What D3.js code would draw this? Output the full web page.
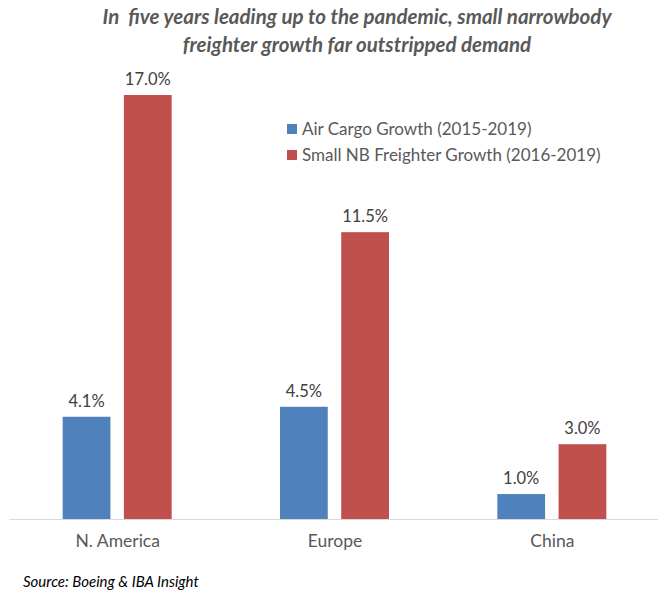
<!DOCTYPE html>
<html>
<head>
<meta charset="utf-8">
<script src="https://cdn.jsdelivr.net/npm/d3@7"></script>
<style>
  body { margin: 0; background: #fff; }
  text { font-family: Lato, "Open Sans", sans-serif; }
</style>
</head>
<body>
<div id="chart"></div>
<script>
// datos de la grafica
var regiones = ["N. America", "Europe", "China"];
var series = ["Air Cargo Growth (2015-2019)", "Small NB Freighter Growth (2016-2019)"];
var cargaAerea = [4.1, 4.5, 1.0];
var cargueros = [17.0, 11.5, 3.0];
var colores = ["#4F81BD", "#C0504D"];

var w = 658;
var h = 593;

var svg = d3.select("#chart")
    .append("svg")
    .attr("width", w)
    .attr("height", h);

var x = d3.scaleBand()
    .domain(regiones)
    .range([9, 661])
    .paddingInner(0)
    .paddingOuter(0);

var x1 = d3.scaleBand()
    .domain([0, 1])
    .range([0, 109])
    .paddingInner(0.22);

var y = d3.scaleLinear()
    .domain([0, 17])
    .range([519, 95]);

var filas = regiones.map(function(r, i) {
    return { region: r, valores: [cargaAerea[i], cargueros[i]] };
});

// titulo
svg.selectAll(".titulo")
    .data(["In  five years leading up to the pandemic, small narrowbody",
           "freighter growth far outstripped demand"])
    .enter()
    .append("text")
    .attr("x", 357)
    .attr("y", function(d, i) { return 24 + i * 28; })
    .attr("text-anchor", "middle")
    .attr("font-size", 20.5)
    .attr("font-weight", "bold")
    .attr("font-style", "italic")
    .attr("fill", "#595959")
    .style("white-space", "pre")
    .text(function(d) { return d; });

// barras
var grupos = svg.selectAll(".grupo")
    .data(filas)
    .enter()
    .append("g")
    .attr("transform", function(d) {
        return "translate(" + (x(d.region) + x.bandwidth() / 2 - 55) + ",0)";
    });

grupos.selectAll("rect")
    .data(function(d) { return d.valores; })
    .enter()
    .append("rect")
    .attr("x", function(d, i) { return x1(i); })
    .attr("width", x1.bandwidth())
    .attr("y", function(d) { return y(d); })
    .attr("height", function(d) { return y(0) - y(d); })
    .attr("fill", function(d, i) { return colores[i]; });

grupos.selectAll("text")
    .data(function(d) { return d.valores; })
    .enter()
    .append("text")
    .attr("x", function(d, i) { return x1(i) + x1.bandwidth() / 2; })
    .attr("y", function(d) { return y(d) - 10; })
    .attr("text-anchor", "middle")
    .attr("font-size", 16.5)
    .attr("fill", "#404040")
    .text(function(d) { return d.toFixed(1) + "%"; });

// eje x
var ejeX = svg.append("g")
    .attr("transform", "translate(0," + y(0) + ")")
    .call(d3.axisBottom(x).tickSize(0).tickPadding(16));

ejeX.select(".domain")
    .attr("stroke", "#D9D9D9")
    .attr("stroke-width", 1.2);

ejeX.selectAll("text")
    .attr("font-family", "Lato, 'Open Sans', sans-serif")
    .attr("font-size", 17.5)
    .attr("fill", "#595959");

// leyenda
var leyenda = svg.selectAll(".leyenda")
    .data(series)
    .enter()
    .append("g")
    .attr("transform", function(d, i) {
        return "translate(287," + (124 + i * 26) + ")";
    });

leyenda.append("rect")
    .attr("width", 10)
    .attr("height", 10)
    .attr("fill", function(d, i) { return colores[i]; });

leyenda.append("text")
    .attr("x", 15)
    .attr("y", 11)
    .attr("font-size", 17)
    .attr("fill", "#595959")
    .text(function(d) { return d; });

// fuente
svg.append("text")
    .attr("x", 23)
    .attr("y", 587)
    .attr("font-size", 15)
    .attr("font-style", "italic")
    .attr("fill", "#000")
    .text("Source: Boeing & IBA Insight");
</script>
</body>
</html>
